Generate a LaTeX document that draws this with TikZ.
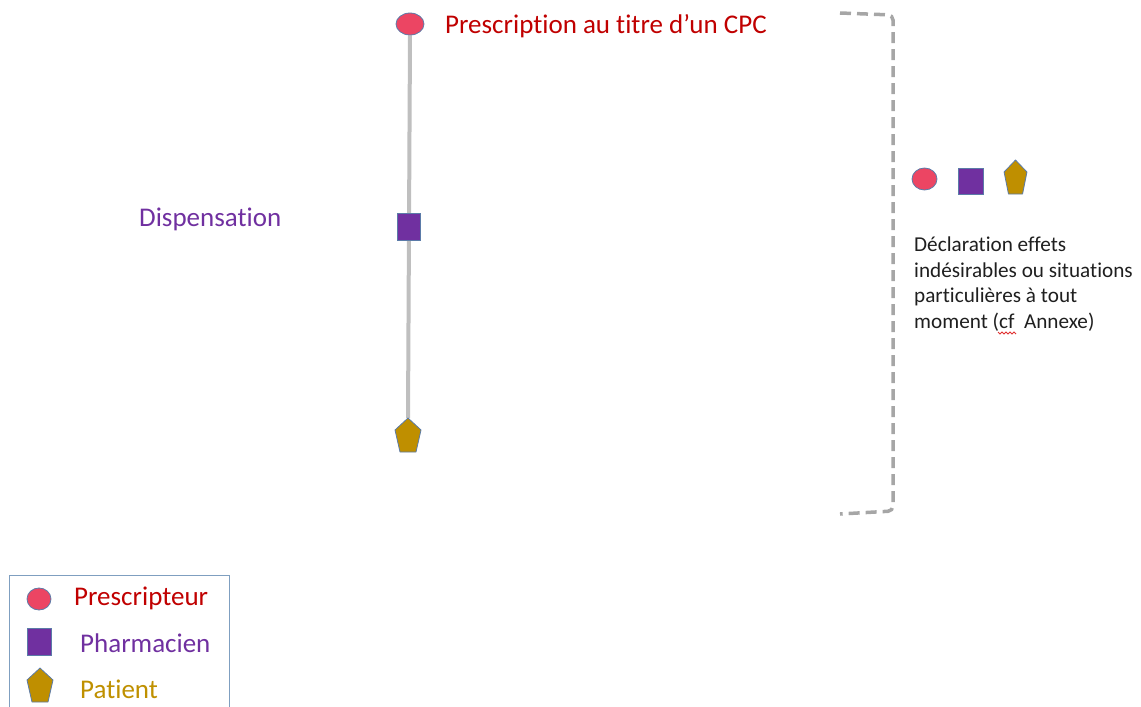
\documentclass[tikz,border=0pt]{standalone}
\usepackage{fontspec}
\setmainfont[Ligatures=NoCommon]{Carlito}
\usetikzlibrary{shapes.geometric,backgrounds}
\definecolor{pinkfill}{HTML}{EC4563}
\definecolor{purplefill}{HTML}{7030A0}
\definecolor{goldfill}{HTML}{BF8F00}
\definecolor{edgeblue}{HTML}{5B7BA8}
\definecolor{txtred}{HTML}{C00000}
\definecolor{txtpurple}{HTML}{7030A0}
\definecolor{txtgold}{HTML}{BF9000}
\definecolor{linegray}{HTML}{BFBFBF}
\definecolor{brackgray}{HTML}{A6A6A6}
\definecolor{legendedge}{HTML}{7F9FC0}
\definecolor{bodytxt}{HTML}{1F1F1F}
\definecolor{spellred}{HTML}{E03030}
\tikzset{
  prescr/.style={ellipse, draw=edgeblue, line width=0.8pt, fill=pinkfill, inner sep=0pt},
  pharma/.style={rectangle, draw=edgeblue, line width=0.8pt, fill=purplefill, inner sep=0pt},
  pentagonpic/.pic={\draw[draw=edgeblue, line width=0.8pt, fill=goldfill, line join=round]
      (0,17) coordinate (-top) -- (13,5) -- (8,-17) -- (-8,-17) -- (-13,5) -- cycle;},
  biglabel/.style={anchor=base west, inner sep=0pt, font=\fontsize{27}{32}\selectfont},
  bodylabel/.style={anchor=base west, inner sep=0pt, align=left, text=bodytxt,
      font=\fontsize{21.2}{25.5}\selectfont},
  timeline/.style={draw=linegray, line width=4pt},
  bracket/.style={draw=brackgray, line width=3.5pt, dash pattern=on 11pt off 6pt, rounded corners=5pt},
  legendbox/.style={draw=legendedge, line width=1pt},
  squiggle/.style={draw=spellred, line width=0.8pt}
}
\begin{document}
\begin{tikzpicture}[x=1pt,y=1pt]
\useasboundingbox (0,0) rectangle (1141,-707);
% timeline shapes
\node[prescr, minimum width=28pt, minimum height=22pt] (pres) at (410,-24) {};
\node[pharma, minimum width=23pt, minimum height=27pt] (phar) at (409,-227) {};
\pic (pat) at (408,-435) {pentagonpic};
\begin{pgfonlayer}{background}
\draw[timeline] (pres.south) -- (pat-top);
\end{pgfonlayer}
\node[biglabel, text=txtred] (prestxt) at (445,-33) {Prescription au titre d’un CPC};
\node[biglabel, text=txtpurple] (disptxt) at (139,-226) {Dispensation};
% bracket
\draw[bracket] (840,-13) -- (893,-15) -- (893,-511) -- (840,-514);
% right icons
\node[prescr, minimum width=25pt, minimum height=22pt] (rpres) at (924.5,-179) {};
\node[pharma, minimum width=25pt, minimum height=26pt] (rphar) at (970.5,-181) {};
\pic[xscale=0.88] (rpat) at (1015.5,-177) {pentagonpic};
\node[bodylabel] (decl) at (914,-328) {Déclaration effets\\indésirables ou situations\\particulières à tout\\moment (cf\ \ Annexe)};
\draw[squiggle] (998,-332) -- (1000,-334) -- (1002,-332) -- (1004,-334) -- (1006,-332)
  -- (1008,-334) -- (1010,-332) -- (1012,-334) -- (1014,-332) -- (1016,-334);
% legend
\draw[legendbox] (9.5,-712) -- (9.5,-575) -- (229.5,-575) -- (229.5,-712);
\node[prescr, minimum width=24pt, minimum height=22pt] (lpres) at (39,-599) {};
\node[pharma, minimum width=24pt, minimum height=27pt] (lphar) at (39,-641.5) {};
\pic (lpat) at (40,-685) {pentagonpic};
\node[biglabel, text=txtred] (ltxt1) at (74,-605) {Prescripteur};
\node[biglabel, text=txtpurple] (ltxt2) at (80,-652) {Pharmacien};
\node[biglabel, text=txtgold] (ltxt3) at (80,-698) {Patient};
\end{tikzpicture}
\end{document}
